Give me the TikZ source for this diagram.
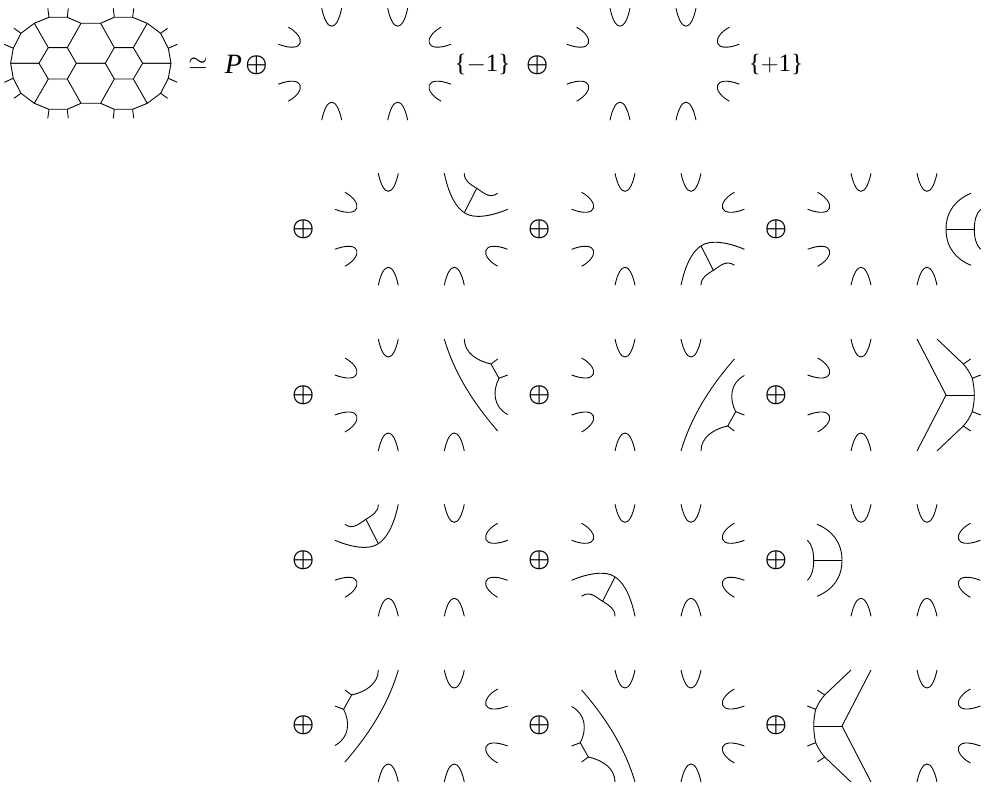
\documentclass[tikz,border=0pt]{standalone}
\usepackage{fontspec}
\setmainfont{Liberation Serif}
\tikzset{
  strand/.style={line width=0.9pt},
  sumsign/.style={inner sep=0pt, font=\fontsize{27}{27}\selectfont\boldmath},
  label/.style={inner sep=0pt, font=\fontsize{25}{25}\selectfont}
}
% one tile: position, U caps, side caps, then the web inside it
\newcommand{\tile}[5]{
  \begin{scope}[shift={(#1,#2)}]
    \foreach \sx/\sy in {#3}
      \draw[strand, xscale=\sx, yscale=\sy] (-43,-56) .. controls (-38,-32) and (-28,-32) .. (-23,-56);
    \foreach \sx/\sy in {#4}
      \draw[strand, xscale=\sx, yscale=\sy] (-76.4,-37) .. controls (-58,-27) and (-60,-10) .. (-86.4,-20);
    #5
  \end{scope}
}
% rung between two corner arcs
\newcommand{\webA}[2]{
  \begin{scope}[xscale=#1, yscale=#2]
    \coordinate (outer) at (43,-16.6);
    \coordinate (inner) at (55.4,-41);
    \draw[strand] (23,-56) .. controls (28,-32) and (36,-21) .. (outer) .. controls (52,-10) and (70,-13) .. (86.4,-20);
    \draw[strand] (43,-56) .. controls (43,-48) and (49,-45) .. (inner) .. controls (62,-37) and (68,-30) .. (76.4,-36);
    \draw[strand] (inner) -- (outer);
  \end{scope}
}
% rung between two side arcs
\newcommand{\webC}[1]{
  \begin{scope}[xscale=#1]
    \coordinate (outer) at (52,0);
    \coordinate (inner) at (80.3,0);
    \draw[strand] (77,-36) .. controls (62,-30) and (52,-18) .. (outer) .. controls (52,18) and (62,30) .. (77,36);
    \draw[strand] (86.6,-20) .. controls (82,-16) and (80.3,-8) .. (inner) .. controls (80.3,8) and (82,16) .. (86.6,20);
    \draw[strand] (outer) -- (inner);
  \end{scope}
}
% long arc with a small web beside it
\newcommand{\webD}[2]{
  \begin{scope}[xscale=#1, yscale=#2]
    \coordinate (upper) at (69.7,-31);
    \coordinate (lower) at (77.7,-16.7);
    \draw[strand] (23,-56) .. controls (33,-22) and (52,8) .. (76.4,36);
    \draw[strand] (43,-56) .. controls (43,-42) and (56,-34) .. (upper) -- (lower) .. controls (71,-4) and (72,12) .. (86.4,19.5);
    \draw[strand] (upper) -- (76.4,-36);
    \draw[strand] (lower) -- (86.4,-20);
  \end{scope}
}
% wedge and a ladder of ticks
\newcommand{\webE}[1]{
  \begin{scope}[xscale=#1]
    \coordinate (tip) at (52,0);
    \coordinate (mid) at (80.3,0);
    \draw[strand] (23,-56) -- (tip) -- (23,56);
    \draw[strand] (tip) -- (mid);
    \foreach \sy in {1,-1} {
      \begin{scope}[yscale=\sy]
        \coordinate (upper) at (69.3,-31);
        \coordinate (lower) at (78.3,-16.7);
        \draw[strand] (43,-56) -- (upper) .. controls (73,-27) and (76,-22) .. (lower) .. controls (79.5,-11) and (80.3,-6) .. (80.3,0);
        \draw[strand] (upper) -- (76.7,-36);
        \draw[strand] (lower) -- (86.7,-20);
      \end{scope}
    }
  \end{scope}
}

\begin{document}
\begin{tikzpicture}[x=1pt, y=-1pt]
\useasboundingbox (0,0) rectangle (990,786);

% Closed web on the left
\begin{scope}[shift={(90.8,63.3)}]
  \foreach \sx/\sy in {1/1,-1/1,1/-1,-1/-1} {
    \begin{scope}[xscale=\sx, yscale=\sy]
      \coordinate (hexa) at (14.5,0);
      \coordinate (hexb) at (23.5,-15.7);
      \coordinate (hexc) at (42.5,-15.7);
      \coordinate (hexd) at (51.8,0);
      \coordinate (rima) at (9.8,-40);
      \coordinate (rimb) at (23.5,-46);
      \coordinate (rimc) at (41.8,-46);
      \coordinate (rimd) at (56.5,-40);
      \coordinate (rime) at (69.8,-30);
      \coordinate (rimf) at (77.5,-15);
      \coordinate (rimg) at (80.2,0);
      \draw[strand] (0,-40) -- (rima) -- (rimb) -- (rimc) -- (rimd) -- (rime) -- (rimf) -- (rimg);
      \draw[strand] (0,0) -- (hexa) -- (hexb) -- (hexc) -- (hexd) -- (rimg);
      \draw[strand] (hexb) -- (rima);
      \draw[strand] (hexc) -- (rimd);
      \draw[strand] (rimb) -- (22.5,-55);
      \draw[strand] (rimc) -- (43,-55);
      \draw[strand] (rime) -- (76.8,-35);
      \draw[strand] (rimf) -- (86.5,-19);
    \end{scope}
  }
\end{scope}

% First row
\node[label] (sim) at (198,64) {$\simeq$};
\node[label, font=\fontsize{28}{28}\selectfont] (pee) at (233.5,64) {\itshape P};
\node[sumsign] (suma) at (256.5,65) {$\oplus$};
\tile{364.7}{64.2}{1/1,-1/1,1/-1,-1/-1}{1/1,-1/1,1/-1,-1/-1}{}
\node[label] (minus) at (482.5,65) {\{$-$1\}};
\node[sumsign] (sumb) at (537.3,65) {$\oplus$};
\tile{653}{64.2}{1/1,-1/1,1/-1,-1/-1}{1/1,-1/1,1/-1,-1/-1}{}
\node[label] (plus) at (776,65) {\{$+$1\}};

% Sum signs of the lower rows
\foreach \row/\ypos in {1/229.3,2/395,3/560.3,4/725.5} {
  \node[sumsign] (sum\row a) at (303.3,\ypos) {$\oplus$};
  \node[sumsign] (sum\row b) at (539.3,\ypos) {$\oplus$};
  \node[sumsign] (sum\row c) at (776,\ypos) {$\oplus$};
}

% Second row
\tile{421.3}{229.3}{1/1,1/-1,-1/-1}{1/1,1/-1,-1/-1}{\webA{1}{1}}
\tile{658}{229.3}{1/1,-1/1,1/-1}{1/1,-1/1,1/-1}{\webA{1}{-1}}
\tile{894}{229.3}{1/1,-1/1,1/-1,-1/-1}{1/1,1/-1}{\webC{1}}

% Third row
\tile{421.3}{395}{1/1,1/-1,-1/-1}{1/1,1/-1}{\webD{1}{1}}
\tile{658}{395}{1/1,-1/1,1/-1}{1/1,1/-1}{\webD{1}{-1}}
\tile{894}{395}{1/1,1/-1}{1/1,1/-1}{\webE{1}}

% Fourth row
\tile{421.3}{560.3}{-1/1,1/-1,-1/-1}{-1/1,1/-1,-1/-1}{\webA{-1}{1}}
\tile{658}{560.3}{1/1,-1/1,-1/-1}{1/1,-1/1,-1/-1}{\webA{-1}{-1}}
\tile{894}{560.3}{1/1,-1/1,1/-1,-1/-1}{-1/1,-1/-1}{\webC{-1}}

% Fifth row
\tile{421.3}{726}{-1/1,1/-1,-1/-1}{-1/1,-1/-1}{\webD{-1}{1}}
\tile{658}{726}{1/1,-1/1,-1/-1}{-1/1,-1/-1}{\webD{-1}{-1}}
\tile{894}{726}{-1/1,-1/-1}{-1/1,-1/-1}{\webE{-1}}
\end{tikzpicture}
\end{document}
